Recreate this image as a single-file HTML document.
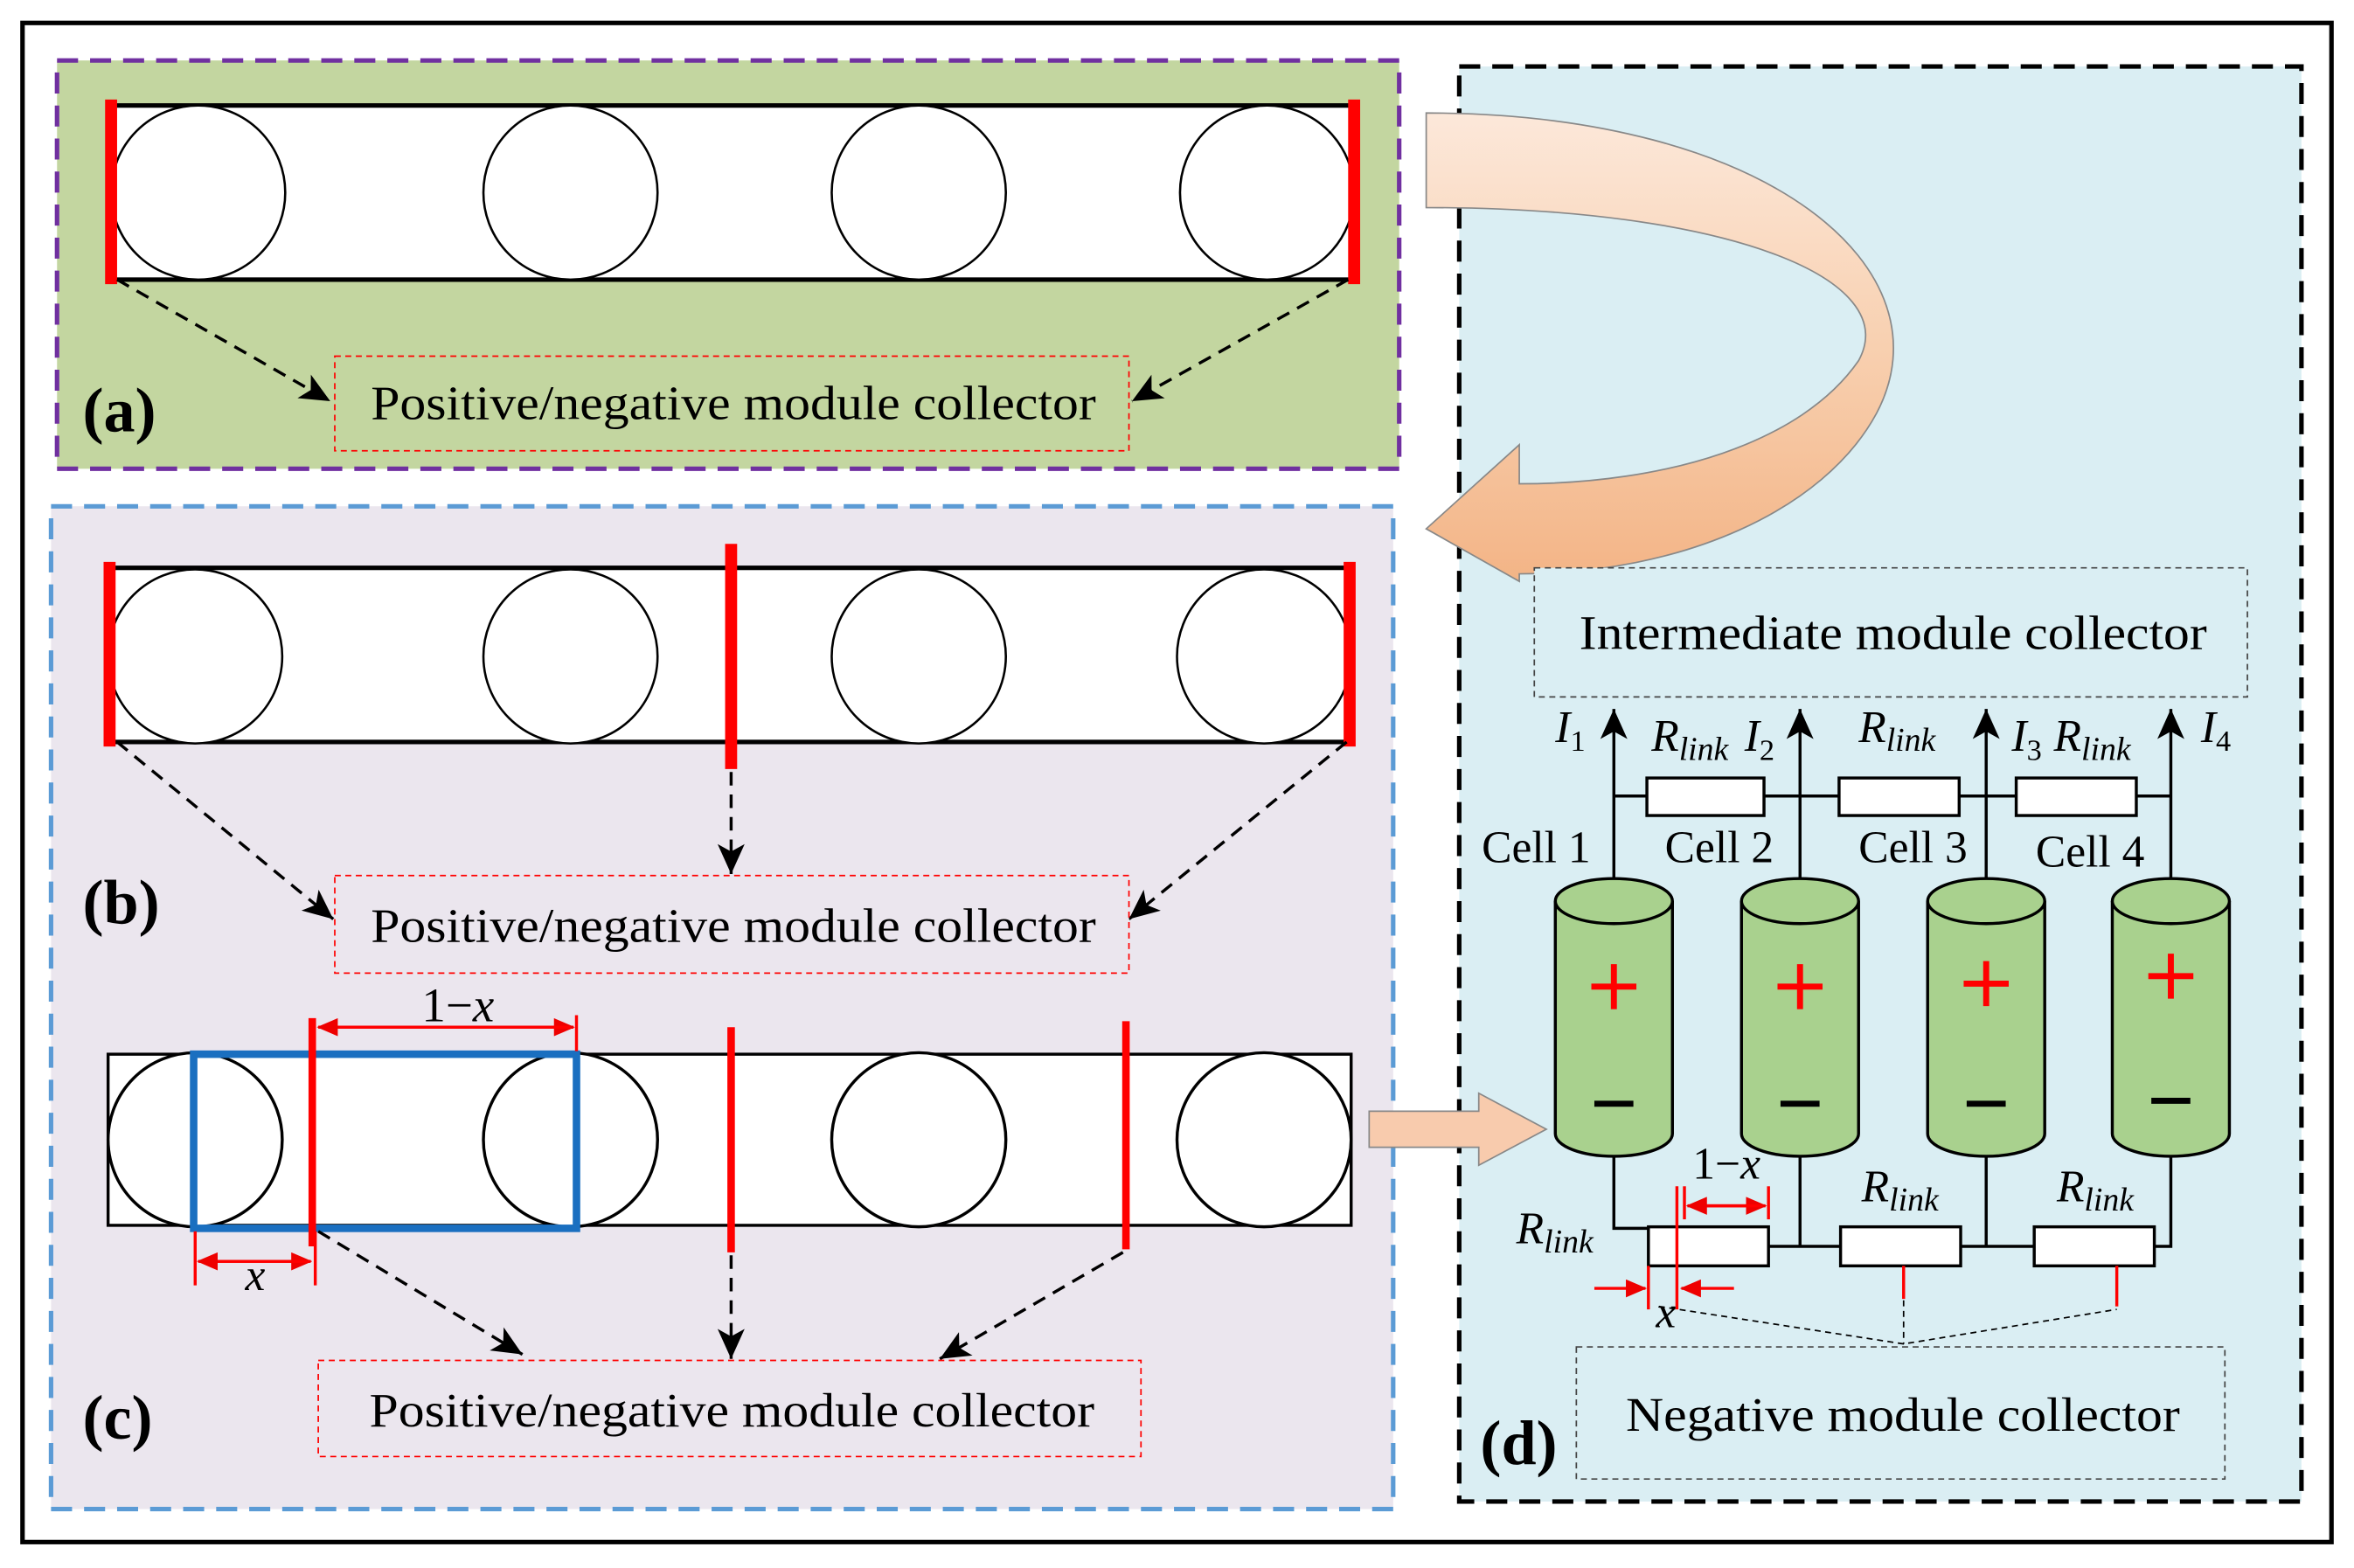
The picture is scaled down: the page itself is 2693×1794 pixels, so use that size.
<!DOCTYPE html>
<html><head><meta charset="utf-8"><style>
html,body{margin:0;padding:0;background:#fff;}
svg{display:block;}
text{font-family:"Liberation Serif",serif;}
</style></head><body>
<svg width="2693" height="1794" viewBox="0 0 1568 1044" xmlns="http://www.w3.org/2000/svg">
<defs>
<marker id="ab" markerWidth="22" markerHeight="22" refX="20" refY="11" orient="auto" markerUnits="userSpaceOnUse"><path d="M0,2 L20,11 L0,20 L5,11 Z" fill="#000"/></marker>
<marker id="ar" markerWidth="14" markerHeight="12" refX="13" refY="6" orient="auto" markerUnits="userSpaceOnUse"><path d="M0,0 L14,6 L0,12 Z" fill="#e00"/></marker>
<linearGradient id="gr" x1="0" y1="0" x2="0" y2="1"><stop offset="0" stop-color="#fce8da"/><stop offset="0.5" stop-color="#f8d0b0"/><stop offset="1" stop-color="#f3b486"/></linearGradient>
</defs>
<rect x="0" y="0" width="1568" height="1044" fill="#fff"/>
<rect x="15" y="15" width="1538" height="1012" fill="none" stroke="#000" stroke-width="3"/>

<!-- panel a -->
<rect x="38" y="40" width="894" height="272" fill="#c3d6a0" stroke="#7030a0" stroke-width="3" stroke-dasharray="14,8"/>
<rect x="72" y="70" width="830" height="116" fill="#fff" stroke="#000" stroke-width="3"/>
<g fill="#fff" stroke="#000" stroke-width="1.5"><circle cx="132" cy="128" r="58"/><circle cx="380" cy="128" r="58"/><circle cx="612" cy="128" r="58"/><circle cx="844" cy="128" r="58"/></g>
<g stroke="#f00" stroke-width="8"><line x1="74" y1="66" x2="74" y2="189"/><line x1="902" y1="66" x2="902" y2="189"/></g>
<g stroke="#000" stroke-width="2" stroke-dasharray="9,6" fill="none"><line x1="78" y1="186" x2="220" y2="267" marker-end="url(#ab)"/><line x1="898" y1="186" x2="754" y2="267" marker-end="url(#ab)"/></g>
<rect x="223" y="237" width="529" height="63" fill="#c3d6a0" stroke="#f00" stroke-width="1" stroke-dasharray="4,3"/>
<text x="247" y="279" font-size="32" textLength="483" lengthAdjust="spacingAndGlyphs">Positive/negative module collector</text>
<text x="55" y="287" font-size="42" font-weight="bold">(a)</text>

<!-- panel b/c -->
<rect x="34" y="337" width="894" height="668" fill="#ebe6ee" stroke="#5b9bd5" stroke-width="3" stroke-dasharray="14,8"/>
<rect x="72" y="378" width="828" height="116" fill="#fff" stroke="#000" stroke-width="3"/>
<g fill="#fff" stroke="#000" stroke-width="1.5"><circle cx="130" cy="437" r="58"/><circle cx="380" cy="437" r="58"/><circle cx="612" cy="437" r="58"/><circle cx="842" cy="437" r="58"/></g>
<g stroke="#f00" stroke-width="8"><line x1="73" y1="374" x2="73" y2="497"/><line x1="487" y1="362" x2="487" y2="512"/><line x1="899" y1="374" x2="899" y2="497"/></g>
<g stroke="#000" stroke-width="2" stroke-dasharray="9,6" fill="none"><line x1="78" y1="494" x2="222" y2="612" marker-end="url(#ab)"/><line x1="487" y1="514" x2="487" y2="582" marker-end="url(#ab)"/><line x1="897" y1="494" x2="752" y2="612" marker-end="url(#ab)"/></g>
<rect x="223" y="583" width="529" height="65" fill="#ebe6ee" stroke="#f00" stroke-width="1" stroke-dasharray="4,3"/>
<text x="247" y="627" font-size="32" textLength="483" lengthAdjust="spacingAndGlyphs">Positive/negative module collector</text>
<text x="55" y="615" font-size="42" font-weight="bold">(b)</text>

<rect x="72" y="702" width="828" height="114" fill="#fff" stroke="#000" stroke-width="2"/>
<g fill="#fff" stroke="#000" stroke-width="2"><circle cx="130" cy="759" r="58"/><circle cx="380" cy="759" r="58"/><circle cx="612" cy="759" r="58"/><circle cx="842" cy="759" r="58"/></g>
<rect x="129" y="702" width="255" height="116" fill="none" stroke="#1a6fc0" stroke-width="5"/>
<g stroke="#f00" stroke-width="5"><line x1="208" y1="678" x2="208" y2="830"/><line x1="487" y1="684" x2="487" y2="834"/><line x1="750" y1="680" x2="750" y2="832"/></g>
<g stroke="#f00" stroke-width="2"><line x1="384" y1="676" x2="384" y2="700"/><line x1="214" y1="684" x2="382" y2="684" marker-end="url(#ar)"/><line x1="380" y1="684" x2="212" y2="684" marker-end="url(#ar)"/>
<line x1="130" y1="820" x2="130" y2="856"/><line x1="210" y1="820" x2="210" y2="856"/><line x1="134" y1="840" x2="207" y2="840" marker-end="url(#ar)"/><line x1="206" y1="840" x2="132" y2="840" marker-end="url(#ar)"/></g>
<text x="305" y="680" font-size="32" text-anchor="middle">1−<tspan font-style="italic">x</tspan></text>
<text x="170" y="859" font-size="30" font-style="italic" text-anchor="middle">x</text>
<g stroke="#000" stroke-width="2" stroke-dasharray="9,6" fill="none"><line x1="212" y1="820" x2="348" y2="902" marker-end="url(#ab)"/><line x1="487" y1="836" x2="487" y2="905" marker-end="url(#ab)"/><line x1="748" y1="834" x2="626" y2="905" marker-end="url(#ab)"/></g>
<rect x="212" y="906" width="548" height="64" fill="#ebe6ee" stroke="#f00" stroke-width="1" stroke-dasharray="4,3"/>
<text x="246" y="950" font-size="32" textLength="483" lengthAdjust="spacingAndGlyphs">Positive/negative module collector</text>
<text x="55" y="958" font-size="42" font-weight="bold">(c)</text>

<!-- panel d -->
<rect x="972" y="44" width="561" height="956" fill="#daeef3" stroke="#000" stroke-width="3" stroke-dasharray="14,8"/>

<path d="M950,75 C1180,75 1300,180 1250,275 C1215,340 1120,382 1012,382 L1012,387 L950,352 L1012,296 L1012,322 C1110,322 1200,295 1238,240 C1268,185 1150,138 950,138 Z" fill="url(#gr)" stroke="#888" stroke-width="1"/>

<path d="M912,740 L985,740 L985,728 L1030,752 L985,776 L985,764 L912,764 Z" fill="#f8cbad" stroke="#888" stroke-width="1"/>

<rect x="1022" y="378" width="475" height="86" fill="#daeef3" stroke="#444" stroke-width="1" stroke-dasharray="4,3"/>
<text x="1052" y="432" font-size="32" textLength="418" lengthAdjust="spacingAndGlyphs">Intermediate module collector</text>

<g stroke="#000" stroke-width="2" fill="none">
<line x1="1075" y1="585" x2="1075" y2="472" marker-end="url(#ab)"/>
<line x1="1199" y1="585" x2="1199" y2="472" marker-end="url(#ab)"/>
<line x1="1323" y1="585" x2="1323" y2="472" marker-end="url(#ab)"/>
<line x1="1446" y1="585" x2="1446" y2="472" marker-end="url(#ab)"/>
<line x1="1075" y1="530" x2="1446" y2="530"/>
</g>
<g fill="#fff" stroke="#000" stroke-width="2"><rect x="1097" y="518" width="78" height="25"/><rect x="1225" y="518" width="80" height="25"/><rect x="1343" y="518" width="80" height="25"/></g>
<g font-size="30">
<text x="1036" y="494" font-style="italic">I<tspan font-size="20" font-style="normal" dy="6">1</tspan></text>
<text x="1100" y="500" font-style="italic">R<tspan font-size="22" dy="6">link</tspan></text>
<text x="1162" y="500" font-style="italic">I<tspan font-size="20" font-style="normal" dy="6">2</tspan></text>
<text x="1238" y="494" font-style="italic">R<tspan font-size="22" dy="6">link</tspan></text>
<text x="1340" y="500" font-style="italic">I<tspan font-size="20" font-style="normal" dy="6">3</tspan></text>
<text x="1368" y="500" font-style="italic">R<tspan font-size="22" dy="6">link</tspan></text>
<text x="1466" y="494" font-style="italic">I<tspan font-size="20" font-style="normal" dy="6">4</tspan></text>
<text x="987" y="574">Cell 1</text>
<text x="1109" y="574">Cell 2</text>
<text x="1238" y="574">Cell 3</text>
<text x="1356" y="577">Cell 4</text>
</g>

<g stroke="#000" stroke-width="2">
<g><path d="M1036,600 L1036,755 A39,15 0 0 0 1114,755 L1114,600" fill="#a9d18e"/><ellipse cx="1075" cy="600" rx="39" ry="15" fill="#a9d18e"/></g>
<g><path d="M1160,600 L1160,755 A39,15 0 0 0 1238,755 L1238,600" fill="#a9d18e"/><ellipse cx="1199" cy="600" rx="39" ry="15" fill="#a9d18e"/></g>
<g><path d="M1284,600 L1284,755 A39,15 0 0 0 1362,755 L1362,600" fill="#a9d18e"/><ellipse cx="1323" cy="600" rx="39" ry="15" fill="#a9d18e"/></g>
<g><path d="M1407,600 L1407,755 A39,15 0 0 0 1485,755 L1485,600" fill="#a9d18e"/><ellipse cx="1446" cy="600" rx="39" ry="15" fill="#a9d18e"/></g>
</g>
<g stroke="#f00" stroke-width="4"><path d="M1060,657 h30 M1075,642 v30"/><path d="M1184,657 h30 M1199,642 v30"/><path d="M1308,655 h30 M1323,640 v30"/><path d="M1431,650 h30 M1446,635 v30"/></g>
<g stroke="#000" stroke-width="4"><path d="M1062,735 h26"/><path d="M1186,735 h26"/><path d="M1310,735 h26"/><path d="M1433,733 h26"/></g>

<g stroke="#000" stroke-width="2" fill="none">
<path d="M1075,770 L1075,818 L1098,818"/>
<line x1="1199" y1="770" x2="1199" y2="830"/>
<line x1="1323" y1="770" x2="1323" y2="830"/>
<path d="M1446,770 L1446,830 L1435,830"/>
<line x1="1178" y1="830" x2="1226" y2="830"/>
<line x1="1306" y1="830" x2="1355" y2="830"/>
</g>
<g fill="#fff" stroke="#000" stroke-width="2"><rect x="1098" y="817" width="80" height="26"/><rect x="1226" y="817" width="80" height="26"/><rect x="1355" y="817" width="80" height="26"/></g>
<g stroke="#f00" stroke-width="2"><line x1="1117" y1="790" x2="1117" y2="872"/><line x1="1122" y1="790" x2="1122" y2="812"/><line x1="1178" y1="790" x2="1178" y2="812"/>
<line x1="1126" y1="803" x2="1176" y2="803" marker-end="url(#ar)"/><line x1="1174" y1="803" x2="1124" y2="803" marker-end="url(#ar)"/>
<line x1="1098" y1="843" x2="1098" y2="872"/>
<line x1="1062" y1="858" x2="1096" y2="858" marker-end="url(#ar)"/><line x1="1155" y1="858" x2="1120" y2="858" marker-end="url(#ar)"/>
<line x1="1268" y1="843" x2="1268" y2="865"/><line x1="1410" y1="843" x2="1410" y2="870"/></g>
<g stroke="#000" stroke-width="1" stroke-dasharray="4,3" fill="none"><path d="M1105,870 L1268,895 L1410,872 M1268,866 L1268,895"/></g>
<g font-size="30" font-style="italic">
<text x="1150" y="785" text-anchor="middle" font-style="normal">1−<tspan font-style="italic">x</tspan></text>
<text x="1240" y="800">R<tspan font-size="22" dy="6">link</tspan></text>
<text x="1370" y="800">R<tspan font-size="22" dy="6">link</tspan></text>
<text x="1010" y="828">R<tspan font-size="22" dy="6">link</tspan></text>
<text x="1103" y="884">x</text>
</g>
<rect x="1050" y="897" width="432" height="88" fill="#daeef3" stroke="#444" stroke-width="1" stroke-dasharray="4,3"/>
<text x="1083" y="953" font-size="32" textLength="369" lengthAdjust="spacingAndGlyphs">Negative module collector</text>
<text x="986" y="975" font-size="42" font-weight="bold">(d)</text>
</svg>
</body></html>
